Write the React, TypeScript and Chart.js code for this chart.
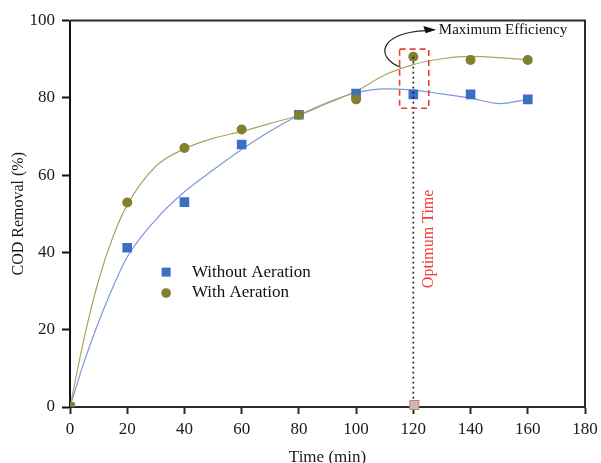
import { useEffect, useRef } from "react";
import { Chart, registerables } from "chart.js";

Chart.register(...registerables);

// ---- data ----
const timePoints = [0, 20, 40, 60, 80, 100, 120, 140, 160];
const withoutAeration = [0, 41.2, 53, 67.9, 75.6, 81.1, 80.9, 80.9, 79.6];
const withAeration = [0, 52.9, 67, 71.8, 75.6, 79.6, 90.6, 89.8, 89.8];

const fitTimes = [0, 5, 10, 15, 20, 30, 40, 50, 60, 70, 80, 90, 100, 110, 120, 130, 140, 150, 160];
const withoutFit = [0, 11.8, 22, 31, 38.8, 48.5, 55.7, 61.3, 66.6, 71.4, 75.5, 78.8, 81.3, 82.3, 82, 81, 79.9, 78.5, 79.6];
const withFit = [0, 18, 32.8, 44, 52.3, 62.3, 66.8, 69.5, 71.3, 73.4, 75.5, 78.6, 81.7, 85.9, 88.6, 90.1, 90.7, 90.4, 89.8];

const seriesLabels = ["Without Aeration", "With Aeration"];
const xTickValues = [0, 20, 40, 60, 80, 100, 120, 140, 160, 180];
const yTickValues = [0, 20, 40, 60, 80, 100];

const optimumTime = 120;
const optimumValue = 90.6;
const optimumLabel = "Optimum Time";
const maxLabel = "Maximum Efficiency";
const xTitle = "Time (min)";
const yTitle = "COD Removal (%)";

export default function App() {
  const ref = useRef<HTMLCanvasElement>(null);

  useEffect(() => {
    document.body.style.margin = "0";
    const canvas = ref.current!;
    const serif = "'Liberation Serif', 'Times New Roman', serif";
    const blue = "#3a6fc3";
    const olive = "#827f2d";
    const blueLine = "#7d98dc";
    const oliveLine = "#a9a65e";
    const red = "#e8413a";

    const overlay = {
      id: "overlay",
      afterDraw(chart: any) {
        const { ctx, chartArea: a, scales } = chart;
        const x = scales.x;
        const y = scales.y;
        const X = (v: number) => x.getPixelForValue(v);
        const Y = (v: number) => y.getPixelForValue(v);
        ctx.save();

        // frame (top & right)
        ctx.strokeStyle = "#2a2a2a";
        ctx.lineWidth = 2;
        ctx.beginPath();
        ctx.moveTo(a.left, a.top);
        ctx.lineTo(a.right, a.top);
        ctx.lineTo(a.right, a.bottom);
        ctx.stroke();

        // dotted vertical line at optimum time
        ctx.setLineDash([1.6, 3.4]);
        ctx.strokeStyle = "#111";
        ctx.lineWidth = 1.6;
        ctx.beginPath();
        ctx.moveTo(X(optimumTime), Y(optimumValue));
        ctx.lineTo(X(optimumTime), Y(0) - 4);
        ctx.stroke();

        // dashed red rectangle
        ctx.setLineDash([6, 4]);
        ctx.strokeStyle = red;
        ctx.lineWidth = 1.6;
        ctx.strokeRect(X(115.2), Y(92.6), X(125.4) - X(115.2), Y(77.3) - Y(92.6));
        ctx.setLineDash([]);

        // grey marker on the axis
        const s = 9;
        ctx.fillStyle = "#bdbdbd";
        ctx.strokeStyle = "#e07a66";
        ctx.lineWidth = 1;
        ctx.fillRect(X(optimumTime) - s / 2 + 1, Y(0) - s / 2 - 2, s, s);
        ctx.strokeRect(X(optimumTime) - s / 2 + 1, Y(0) - s / 2 - 2, s, s);

        // "Optimum Time" rotated
        ctx.save();
        ctx.translate(X(125.5), Y(43.5));
        ctx.rotate(-Math.PI / 2);
        ctx.fillStyle = red;
        ctx.font = `16px ${serif}`;
        ctx.textAlign = "center";
        ctx.textBaseline = "middle";
        ctx.fillText(optimumLabel, 0, 0);
        ctx.restore();

        // curved arrow
        ctx.strokeStyle = "#222";
        ctx.lineWidth = 1.2;
        ctx.beginPath();
        ctx.moveTo(X(115.6), Y(87.9));
        ctx.bezierCurveTo(X(106.5), Y(90.5), X(108), Y(96.9), X(124.5), Y(97.4));
        ctx.stroke();
        ctx.fillStyle = "#111";
        ctx.beginPath();
        ctx.moveTo(X(128), Y(97.6));
        ctx.lineTo(X(123.5), Y(98.6));
        ctx.lineTo(X(124.3), Y(96.7));
        ctx.closePath();
        ctx.fill();

        ctx.fillStyle = "#111";
        ctx.font = `15px ${serif}`;
        ctx.textAlign = "left";
        ctx.textBaseline = "middle";
        ctx.fillText(maxLabel, X(128.9), Y(97.4));

        // legend
        ctx.font = `17px ${serif}`;
        ctx.fillStyle = "#111";
        ctx.fillText(seriesLabels[0], X(42.6), Y(34.9));
        ctx.fillText(seriesLabels[1], X(42.6), Y(29.7));
        ctx.fillStyle = blue;
        ctx.fillRect(X(33.6) - 4.5, Y(34.9) - 4.5, 9, 9);
        ctx.fillStyle = olive;
        ctx.beginPath();
        ctx.arc(X(33.6), Y(29.5), 4.8, 0, Math.PI * 2);
        ctx.fill();

        ctx.restore();
      },
    };

    const chart = new Chart(canvas, {
      type: "scatter",
      data: {
        datasets: [
          {
            label: seriesLabels[1],
            data: timePoints.map((t, i) => ({ x: t, y: withAeration[i] })),
            pointStyle: "circle",
            pointRadius: 5,
            backgroundColor: olive,
            borderColor: olive,
            borderWidth: 0,
            clip: 0,
          } as any,
          {
            label: seriesLabels[0],
            data: timePoints.map((t, i) => ({ x: t, y: withoutAeration[i] })),
            pointStyle: "rect",
            pointRadius: 6.8,
            backgroundColor: blue,
            borderColor: blue,
            borderWidth: 0,
            clip: 0,
          } as any,
          {
            label: "fit with",
            data: fitTimes.map((t, i) => ({ x: t, y: withFit[i] })),
            showLine: true,
            pointRadius: 0,
            borderColor: oliveLine,
            borderWidth: 1.2,
            cubicInterpolationMode: "monotone",
          } as any,
          {
            label: "fit without",
            data: fitTimes.map((t, i) => ({ x: t, y: withoutFit[i] })),
            showLine: true,
            pointRadius: 0,
            borderColor: blueLine,
            borderWidth: 1.2,
            cubicInterpolationMode: "monotone",
          } as any,
        ],
      },
      options: {
        responsive: false,
        animation: false,
        devicePixelRatio: 1,
        layout: { padding: { top: 20.5, right: 16, left: 0, bottom: 0 } },
        plugins: {
          legend: { display: false },
          tooltip: { enabled: false },
        },
        scales: {
          x: {
            type: "linear",
            min: 0,
            max: 180,
            afterFit: (s: any) => {
              s.height = 56;
              s.paddingLeft = 0;
              s.paddingRight = 0;
            },
            afterBuildTicks: (s: any) => {
              s.ticks = xTickValues.map((v) => ({ value: v }));
            },
            grid: {
              display: true,
              drawOnChartArea: false,
              drawTicks: true,
              tickLength: 7,
              tickWidth: 2,
              tickColor: "#2a2a2a",
            },
            border: { display: true, color: "#2a2a2a", width: 2 },
            ticks: {
              color: "#1a1a1a",
              padding: 5,
              font: { family: serif, size: 17 },
              maxRotation: 0,
            },
            title: {
              display: true,
              text: xTitle,
              color: "#1a1a1a",
              font: { family: serif, size: 17 },
              padding: { top: 0, bottom: -5 },
            },
          },
          y: {
            type: "linear",
            min: 0,
            max: 100,
            afterFit: (s: any) => {
              s.width = 70;
              s.paddingTop = 0;
              s.paddingBottom = 0;
            },
            afterBuildTicks: (s: any) => {
              s.ticks = yTickValues.map((v) => ({ value: v }));
            },
            grid: {
              display: true,
              drawOnChartArea: false,
              drawTicks: true,
              tickLength: 8,
              tickWidth: 2,
              tickColor: "#111",
            },
            border: { display: true, color: "#111", width: 2 },
            ticks: {
              color: "#1a1a1a",
              padding: 7,
              font: { family: serif, size: 17 },
            },
            title: {
              display: true,
              text: yTitle,
              color: "#1a1a1a",
              font: { family: serif, size: 16 },
              padding: { top: 9, bottom: 0 },
            },
          },
        },
      },
      plugins: [overlay],
    } as any);

    return () => chart.destroy();
  }, []);

  return (
    <div style={{ width: 601, height: 463 }}>
      <canvas ref={ref} width={601} height={463} style={{ display: "block" }} />
    </div>
  );
}
